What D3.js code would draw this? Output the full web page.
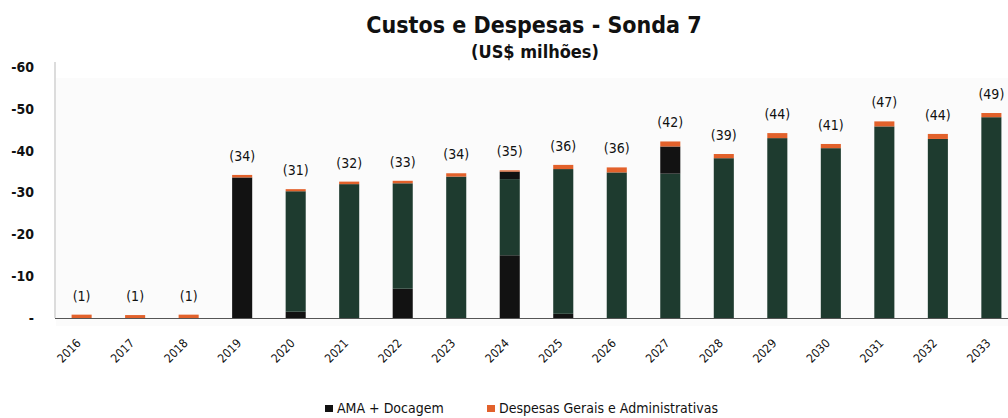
<!DOCTYPE html>
<html>
<head>
<meta charset="utf-8">
<script src="https://cdn.jsdelivr.net/npm/d3@7"></script>
<style>
  body { margin: 0; background: #fff; }
  text { font-family: "DejaVu Sans Condensed", "DejaVu Sans", sans-serif; fill: #111; }
</style>
</head>
<body>
<svg id="chart" width="1008" height="418"></svg>
<script>
// valores em US$ milhões
const anos = ['2016', '2017', '2018', '2019', '2020', '2021', '2022', '2023', '2024',
  '2025', '2026', '2027', '2028', '2029', '2030', '2031', '2032', '2033']
const amaDocagem = [0, 0, 0, 33.6, 1.5, 0, 7, 0, 15, 1, 0, 0, 0, 0, 0, 0, 0, 0]
const operacao = [0, 0, 0, 0, 28.8, 32, 25.2, 33.8, 18.2, 34.6, 34.8, 34.5, 38.2, 43, 40.6, 45.8, 42.8, 48]
const amaDocagemTopo = [0, 0, 0, 0, 0, 0, 0, 0, 1.8, 0, 0, 6.5, 0, 0, 0, 0, 0, 0]
const despesasGerais = [0.8, 0.7, 0.8, 0.6, 0.5, 0.6, 0.6, 0.8, 0.3, 1, 1.2, 1.2, 1, 1.2, 1, 1.2, 1.2, 1]
const rotulos = ['(1)', '(1)', '(1)', '(34)', '(31)', '(32)', '(33)', '(34)', '(35)',
  '(36)', '(36)', '(42)', '(39)', '(44)', '(41)', '(47)', '(44)', '(49)']
const yTicks = [0, 10, 20, 30, 40, 50, 60]

const serieCor = {
  amaDocagem: '#121212',
  operacao: '#1e3b2f',
  amaDocagemTopo: '#121212',
  despesasGerais: '#e2612b'
}
const legenda = [
  { nome: 'AMA + Docagem', cor: '#121212' },
  { nome: 'Despesas Gerais e Administrativas', cor: '#e2612b' }
]

const svg = d3.select('#chart')

const dados = anos.map((a, i) => ({
  ano: a,
  amaDocagem: amaDocagem[i],
  operacao: operacao[i],
  amaDocagemTopo: amaDocagemTopo[i],
  despesasGerais: despesasGerais[i]
}))

const x = d3.scaleBand().domain(anos).range([55, 1018]).paddingInner(0.625).paddingOuter(0.31)
const y = d3.scaleLinear().domain([0, 60]).range([318, 67])

// fundo da área do gráfico
svg.append('rect')
  .attr('x', 56).attr('y', 78).attr('width', 960).attr('height', 248)
  .attr('fill', '#fbfbfb')

// eixo vertical
svg.append('line')
  .attr('x1', 55).attr('x2', 55).attr('y1', 62).attr('y2', 318)
  .attr('stroke', '#dcdcdc').attr('stroke-width', 2)

const yAxis = svg.append('g')
  .attr('transform', 'translate(34,0)')
  .call(d3.axisLeft(y).tickValues(yTicks).tickSize(0).tickFormat(d => d === 0 ? '-' : '-' + d))
yAxis.select('.domain').remove()
yAxis.selectAll('text')
  .attr('x', 0)
  .style('font-size', '14px')
  .style('font-weight', 'bold')
  .style('text-anchor', 'end')

// linha de base
svg.append('line')
  .attr('x1', 55).attr('x2', 1008).attr('y1', 318.5).attr('y2', 318.5)
  .attr('stroke', '#555').attr('stroke-width', 1)

const pilha = d3.stack().keys(['amaDocagem', 'operacao', 'amaDocagemTopo', 'despesasGerais'])(dados)

svg.append('g')
  .selectAll('g')
  .data(pilha)
  .enter()
  .append('g')
  .attr('fill', d => serieCor[d.key])
  .selectAll('rect')
  .data(d => d)
  .enter()
  .append('rect')
  .attr('x', d => x(d.data.ano))
  .attr('width', x.bandwidth())
  .attr('y', d => y(d[1]))
  .attr('height', d => y(d[0]) - y(d[1]))

// rótulos dos totais
svg.append('g')
  .selectAll('text')
  .data(dados)
  .enter()
  .append('text')
  .attr('x', d => x(d.ano) + x.bandwidth() / 2)
  .attr('y', (d, i) => y(amaDocagem[i] + operacao[i] + amaDocagemTopo[i] + despesasGerais[i]) - 14)
  .attr('text-anchor', 'middle')
  .style('font-size', '14px')
  .text((d, i) => rotulos[i])

// eixo x
const xAxis = svg.append('g')
  .attr('transform', 'translate(0,318)')
  .call(d3.axisBottom(x).tickSize(0))
xAxis.select('.domain').remove()
xAxis.selectAll('text')
  .attr('transform', 'translate(0,26) rotate(-45)')
  .attr('dy', 0)
  .attr('y', 0)
  .style('text-anchor', 'end')
  .style('font-size', '12px')

// título
svg.append('text')
  .attr('x', 534).attr('y', 33)
  .attr('text-anchor', 'middle')
  .style('font-size', '23px')
  .style('font-weight', 'bold')
  .text('Custos e Despesas - Sonda 7')
svg.append('text')
  .attr('x', 535).attr('y', 58)
  .attr('text-anchor', 'middle')
  .style('font-size', '18px')
  .style('font-weight', 'bold')
  .text('(US$ milhões)')

// legenda
const leg = svg.append('g')
  .selectAll('g')
  .data(legenda)
  .enter()
  .append('g')
  .attr('transform', (d, i) => `translate(${i === 0 ? 325 : 487},405)`)
leg.append('rect')
  .attr('width', 8).attr('height', 7)
  .attr('fill', d => d.cor)
leg.append('text')
  .attr('x', 12).attr('y', 8)
  .style('font-size', '14px')
  .text(d => d.nome)
</script>
</body>
</html>
